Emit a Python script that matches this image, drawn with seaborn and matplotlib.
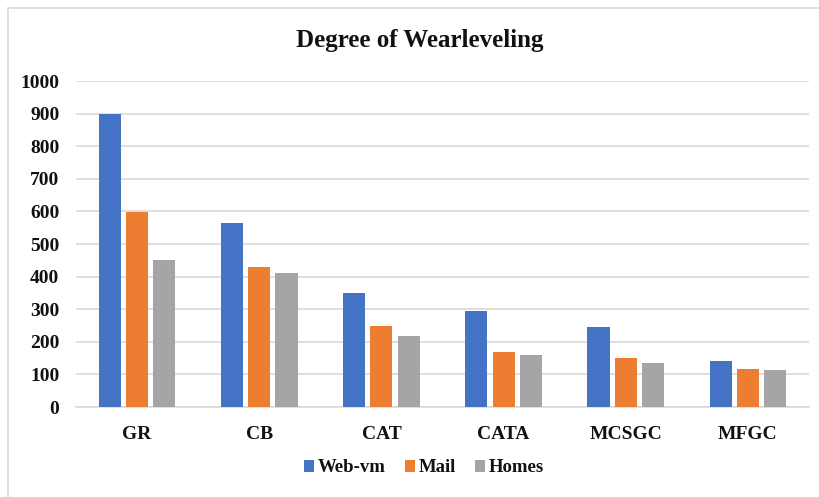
import pandas as pd
import matplotlib
matplotlib.use('Agg')
import matplotlib.pyplot as plt
import seaborn as sns
from matplotlib.patches import Rectangle

# data
methods = ['GR', 'CB', 'CAT', 'CATA', 'MCSGC', 'MFGC']
web_vm = [900, 565, 350, 295, 246, 140]
mail = [597, 428, 247, 168, 149, 118]
homes = [450, 410, 218, 158, 134, 115]
series = ['Web-vm', 'Mail', 'Homes']
colors = ['#4472C4', '#ED7D31', '#A5A5A5']

df = pd.DataFrame({'method': methods * 3,
                   'value': web_vm + mail + homes,
                   'series': [s for s in series for _ in methods]})

sns.set_style('white')
plt.rcParams['font.family'] = ['Liberation Serif', 'DejaVu Serif']
plt.rcParams['font.weight'] = 'bold'
plt.rcParams['text.color'] = '#111111'
plt.rcParams['xtick.color'] = '#111111'
plt.rcParams['ytick.color'] = '#111111'

fig = plt.figure(figsize=(8.19, 4.97), dpi=100)
ax = fig.add_axes([76 / 819, 90 / 497, 733 / 819, 326 / 497])

sns.barplot(data=df, x='method', y='value', hue='series', palette=colors,
            saturation=1, width=0.67, gap=0.19, linewidth=0, ax=ax, zorder=3)

ax.set_ylim(0, 1000)
ax.set_xlim(-0.5, 5.5)
ax.set_yticks(range(0, 1001, 100))
ax.yaxis.grid(True, color='#D9D9D9', linewidth=1.2, zorder=0)
for s in ['top', 'right', 'left']:
    ax.spines[s].set_visible(False)
ax.spines['bottom'].set_color('#D9D9D9')
ax.spines['bottom'].set_linewidth(1.2)
ax.tick_params(axis='y', length=0, pad=12, labelsize=14)
ax.tick_params(axis='x', length=0, pad=14, labelsize=14)
for lab in ax.get_xticklabels() + ax.get_yticklabels():
    lab.set_fontweight('bold')
ax.set_xlabel('')
ax.set_ylabel('')

fig.text(420 / 819, 1 - 41 / 497, 'Degree of Wearleveling', ha='center', va='center',
         fontsize=18, fontweight='bold')

ax.legend(loc='center', bbox_to_anchor=(424 / 819, 1 - 468 / 497),
          bbox_transform=fig.transFigure, ncol=3, frameon=False,
          prop={'size': 13.5, 'weight': 'bold'}, handlelength=0.55, handleheight=0.55,
          handletextpad=0.2, columnspacing=1.0)

fig.patches.append(Rectangle((8 / 819, -0.1), 1.2, 1 - 8 / 497 + 0.1, transform=fig.transFigure,
                             fill=False, edgecolor='#D9D9D9', linewidth=1.2))

plt.savefig('out.png', dpi=100)
